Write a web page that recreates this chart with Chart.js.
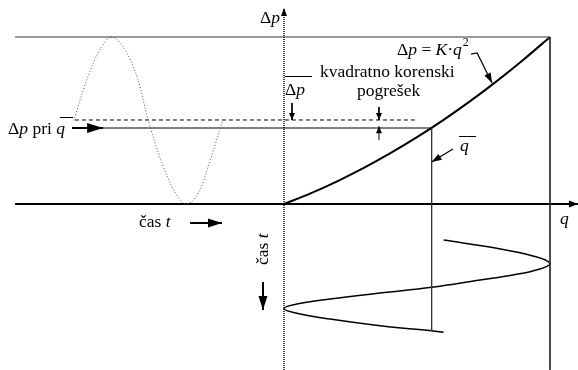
<!DOCTYPE html>
<html>
<head>
<meta charset="utf-8">
<script src="https://cdn.jsdelivr.net/npm/chart.js@4.4.0/dist/chart.umd.min.js"></script>
<style>
html, body { margin: 0; padding: 0; background: #fff; }
#okvir { width: 578px; height: 370px; }
</style>
</head>
<body>
<div id="okvir"><canvas id="graf"></canvas></div>
<script>
/* karakteristika dp = K q^2 (relativno, 0..1) */
const pretokQ = [0, 0.1, 0.2, 0.3, 0.4, 0.5, 0.6, 0.7, 0.8, 0.9, 1.0];
const padecTlaka = [0, 0.064, 0.136, 0.216, 0.304, 0.40, 0.504, 0.616, 0.736, 0.864, 1.0];

/* nihanje dp v casu (levo, cas gre v desno) */
const casT = [-0.79, -0.74, -0.69, -0.65, -0.60, -0.55, -0.51, -0.46, -0.41, -0.37, -0.32, -0.28, -0.23];
const dpCas = [0.50, 0.75, 0.93, 1.00, 0.93, 0.75, 0.50, 0.25, 0.07, 0.00, 0.07, 0.25, 0.50];

/* nihanje q v casu (spodaj, cas gre navzdol) */
const qCas = [0.60, 0.80, 0.936, 1.0, 0.962, 0.861, 0.737, 0.555, 0.361, 0.173, 0.048, 0.0, 0.048, 0.173, 0.361, 0.555, 0.60];
const casDol = [-0.216, -0.265, -0.311, -0.355, -0.389, -0.425, -0.455, -0.499, -0.533, -0.569, -0.599, -0.625, -0.654, -0.689, -0.729, -0.759, -0.768];

const qSred = 0.555;   // srednji pretok
const dpPriQ = 0.455;  // dp pri srednjem q
const dpSred = 0.503;  // srednji dp

const tocke = (xs, ys) => xs.map((x, i) => ({ x: x, y: ys[i] }));

function crta(data, barva, debelina, extra) {
    return Object.assign({
        data: data,
        showLine: true,
        borderColor: barva,
        backgroundColor: barva,
        borderWidth: debelina,
        pointRadius: 0,
        tension: 0,
        fill: false
    }, extra || {});
}

const datasets = [
    crta([{ x: -1.011, y: 1 }, { x: 1, y: 1 }], '#333', 1),
    crta([{ x: 1, y: 1 }, { x: 1, y: -0.994 }], '#333', 1),
    crta([{ x: qSred, y: dpPriQ }, { x: qSred, y: -0.759 }], '#333', 1),
    crta(tocke(casT, dpCas), '#555', 1, { borderDash: [1, 2], cubicInterpolationMode: 'monotone' }),
    crta([{ x: -0.786, y: dpSred }, { x: 0.50, y: dpSred }], '#000', 1, { borderDash: [4, 3] }),
    crta([{ x: -0.680, y: dpPriQ }, { x: qSred, y: dpPriQ }], '#000', 1.2),
    crta([{ x: -0.797, y: dpPriQ }, { x: -0.680, y: dpPriQ }], '#000', 2.2, { puscica: [16, 5] }),
    crta(tocke(pretokQ, padecTlaka), '#000', 2, { cubicInterpolationMode: 'monotone' }),
    crta(tocke(qCas, casDol), '#000', 1.5, { tension: 0.4 }),
    // osi
    crta([{ x: -1.011, y: 0 }, { x: 1.105, y: 0 }], '#000', 2, { puscica: [9, 3.5] }),
    crta([{ x: 0, y: -0.994 }, { x: 0, y: 1.174 }], '#000', 1.5, { borderDash: [1, 1], puscica: [8, 3] }),
    // male puscice
    crta([{ x: 0.030, y: 0.605 }, { x: 0.030, y: dpSred }], '#000', 1, { puscica: [7, 3] }),
    crta([{ x: 0.357, y: 0.581 }, { x: 0.357, y: dpSred }], '#000', 1, { puscica: [7, 3] }),
    crta([{ x: 0.357, y: 0.383 }, { x: 0.357, y: dpPriQ + 0.01 }], '#000', 1, { puscica: [7, 3] }),
    crta([{ x: 0.703, y: 0.898 }, { x: 0.726, y: 0.904 }, { x: 0.782, y: 0.725 }], '#000', 1.2, { puscica: [10, 3.5] }),
    crta([{ x: 0.635, y: 0.329 }, { x: qSred, y: 0.251 }], '#000', 1.2, { puscica: [10, 3.5] }),
    crta([{ x: -0.353, y: -0.114 }, { x: -0.233, y: -0.114 }], '#000', 2, { puscica: [14, 4.5] }),
    crta([{ x: -0.079, y: -0.467 }, { x: -0.079, y: -0.635 }], '#000', 2, { puscica: [14, 4.5] })
];

const puscice = {
    id: 'puscice',
    afterDatasetsDraw(chart) {
        const ctx = chart.ctx;
        chart.data.datasets.forEach((ds, i) => {
            if (!ds.puscica) return;
            const pts = chart.getDatasetMeta(i).data;
            const a = pts[pts.length - 2], b = pts[pts.length - 1];
            const kot = Math.atan2(b.y - a.y, b.x - a.x);
            ctx.save();
            ctx.translate(b.x, b.y);
            ctx.rotate(kot);
            ctx.beginPath();
            ctx.moveTo(0, 0);
            ctx.lineTo(-ds.puscica[0], -ds.puscica[1]);
            ctx.lineTo(-ds.puscica[0], ds.puscica[1]);
            ctx.closePath();
            ctx.fillStyle = ds.borderColor;
            ctx.fill();
            ctx.restore();
        });
    }
};

const PISAVA = '"Liberation Serif", "Times New Roman", serif';

function pisi(ctx, x, y, deli, desno) {
    let sir = 0;
    deli.forEach(d => {
        ctx.font = (d[1] ? 'italic ' : '') + '17.5px ' + PISAVA;
        sir += ctx.measureText(d[0]).width;
    });
    let zac = desno ? x - sir : x;
    deli.forEach(d => {
        ctx.font = (d[1] ? 'italic ' : '') + '17.5px ' + PISAVA;
        ctx.fillText(d[0], zac, y);
        zac += ctx.measureText(d[0]).width;
    });
    return zac;
}

function crtica(ctx, x1, x2, y) {
    ctx.beginPath();
    ctx.moveTo(x1, y + 0.5);
    ctx.lineTo(x2, y + 0.5);
    ctx.lineWidth = 1;
    ctx.strokeStyle = '#000';
    ctx.stroke();
}

const napisi = {
    id: 'napisi',
    afterDraw(chart) {
        const ctx = chart.ctx;
        ctx.save();
        ctx.fillStyle = '#000';
        ctx.textBaseline = 'alphabetic';
        ctx.textAlign = 'left';

        pisi(ctx, 280, 23, [['Δ', 0], ['p', 1]], true);

        const konec = pisi(ctx, 397, 55, [['Δ', 0], ['p', 1], [' = ', 0], ['K', 1], ['·', 0], ['q', 1]]);
        ctx.font = '12px ' + PISAVA;
        ctx.fillText('2', konec + 1, 46);

        pisi(ctx, 320, 77, [['kvadratno korenski', 0]]);
        pisi(ctx, 357, 96, [['pogrešek', 0]]);

        pisi(ctx, 285, 95, [['Δ', 0], ['p', 1]]);
        crtica(ctx, 285, 312, 76);

        pisi(ctx, 8, 134, [['Δ', 0], ['p', 1], [' pri ', 0], ['q', 1]]);
        crtica(ctx, 60, 73, 117);

        pisi(ctx, 460, 151, [['q', 1]]);
        crtica(ctx, 459, 476, 136);

        pisi(ctx, 560, 224, [['q', 1]]);
        pisi(ctx, 139, 227, [['čas ', 0], ['t', 1]]);

        ctx.translate(268, 248);
        ctx.rotate(-Math.PI / 2);
        pisi(ctx, -17, 0, [['čas ', 0], ['t', 1]]);
        ctx.restore();
    }
};

const graf = document.getElementById('graf');

const config = {
    type: 'scatter',
    data: { datasets: datasets },
    options: {
        responsive: true,
        maintainAspectRatio: false,
        animation: false,
        layout: { padding: 0 },
        scales: {
            x: { type: 'linear', display: false, min: -284 / 266, max: 294 / 266 },
            y: { type: 'linear', display: false, min: -166 / 167, max: 204 / 167 }
        },
        plugins: {
            legend: { display: false },
            tooltip: { enabled: false },
            title: { display: false }
        }
    },
    plugins: [puscice, napisi]
};

const graf_1 = new Chart(graf, config);
</script>
</body>
</html>
